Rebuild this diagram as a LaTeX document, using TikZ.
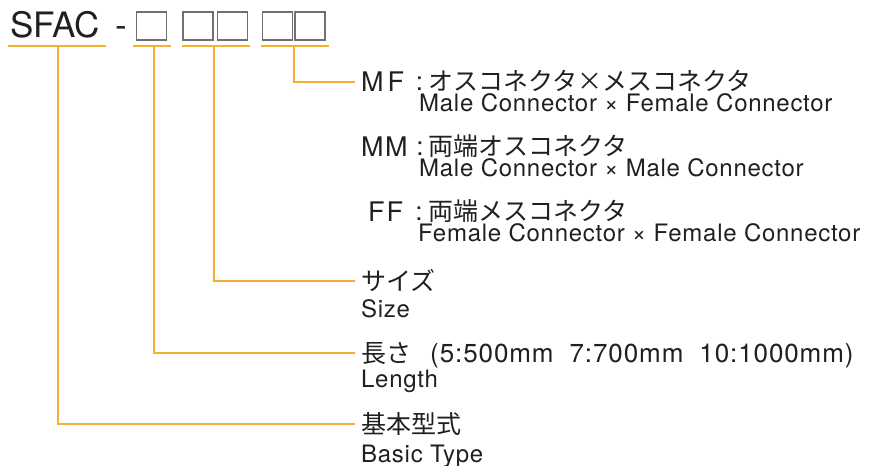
\documentclass[tikz,border=0pt]{standalone}
\usepackage{fontspec}
\setmainfont{TeX Gyre Heros}
\newfontfamily\jp{Noto Sans CJK JP}
\newfontfamily\lsp[LetterSpace=3]{TeX Gyre Heros}
\newfontfamily\numsp[LetterSpace=3.5]{TeX Gyre Heros}
\definecolor{ln}{HTML}{F5B032}
\definecolor{tx}{HTML}{231F20}
\definecolor{bx}{HTML}{707070}
\begin{document}
\begin{tikzpicture}[x=1pt,y=-1pt,
  conn/.style={draw=ln,line width=1.4pt},
  cbox/.style={draw=bx,line width=1.5pt,minimum width=30pt,minimum height=28pt,inner sep=0pt},
  jtxt/.style={anchor=base west,inner sep=0pt,text=tx,font=\jp\fontsize{25}{30}\selectfont},
  etxt/.style={anchor=base west,inner sep=0pt,text=tx,font=\lsp\fontsize{24}{28}\selectfont},
  pfx/.style={anchor=base west,inner sep=0pt,text=tx,font=\fontsize{27}{30}\selectfont},
  colon/.style={anchor=base,inner sep=0pt,text=tx,font=\fontsize{26}{30}\selectfont},
 ]
\useasboundingbox (0,0) rectangle (876,466);
% title
\node[anchor=base west,inner sep=0pt,text=tx,font=\fontsize{35}{40}\selectfont] (sfac) at (10,37) {SFAC};
\node[anchor=base,inner sep=0pt,text=tx,font=\fontsize{35}{40}\selectfont] (dash) at (121.5,37) {-};
\node[cbox] (b1) at (151.5,26) {};
\node[cbox] (b2) at (198,26) {};
\node[cbox] (b3) at (232.5,26) {};
\node[cbox] (b4) at (277.5,26) {};
\node[cbox] (b5) at (310,26) {};
% underlines
\coordinate (u0a) at (8,46);   \coordinate (u0b) at (106,46);
\coordinate (u1a) at (133,46); \coordinate (u1b) at (171,46);
\coordinate (u2a) at (182,46); \coordinate (u2b) at (250,46);
\coordinate (u3a) at (261,46); \coordinate (u3b) at (329,46);
\draw[conn] (u0a) -- (u0b);
\draw[conn] (u1a) -- (u1b);
\draw[conn] (u2a) -- (u2b);
\draw[conn] (u3a) -- (u3b);
\coordinate (t0) at (58,46);
\coordinate (t1) at (154,46);
\coordinate (t2) at (214,46);
\coordinate (t3) at (294,46);
% MF row
\node[pfx] (mfp) at (361,91) {M\kern4pt F};
\node[colon] (mfc) at (419.5,90) {:};
\node[jtxt] (mfj) at (428,90) {オスコネクタ×メスコネクタ};
\node[etxt] (mfe) at (419,111) {Male Connector × Female Connector};
% MM row
\node[pfx] (mmp) at (361,156) {M\kern1.5pt M};
\node[colon] (mmc) at (420,155) {:};
\node[jtxt] (mmj) at (428,155) {両端オスコネクタ};
\node[etxt] (mme) at (419,176) {Male Connector × Male Connector};
% FF row
\node[pfx] (ffp) at (368,221) {F\kern2pt F};
\node[colon] (ffc) at (419,220) {:};
\node[jtxt] (ffj) at (428,220) {両端メスコネクタ};
\node[etxt] (ffe) at (418,241) {Female Connector × Female Connector};
% Size
\node[jtxt] (szj) at (361,290.5) {サイズ};
\node[etxt] (sze) at (361,317) {Size};
% Length
\node[jtxt] (lnj) at (361,362.5) {長さ};
\node[anchor=base west,inner sep=0pt,text=tx,font=\numsp\fontsize{26}{30}\selectfont] (lnn) at (430,362.5) {(5:500mm\hspace{16pt}7:700mm\hspace{16pt}10:1000mm)};
\node[etxt] (lne) at (361,387) {Length};
% Basic
\node[jtxt] (bsj) at (361,433.5) {基本型式};
\node[etxt] (bse) at (361,462) {Basic Type};
% connector ends
\coordinate (e3) at (355,82);
\coordinate (e2) at (355,281);
\coordinate (e1) at (355,353);
\coordinate (e0) at (355,424);
\draw[conn] (t3) |- (e3);
\draw[conn] (t2) |- (e2);
\draw[conn] (t1) |- (e1);
\draw[conn] (t0) |- (e0);
\end{tikzpicture}
\end{document}
